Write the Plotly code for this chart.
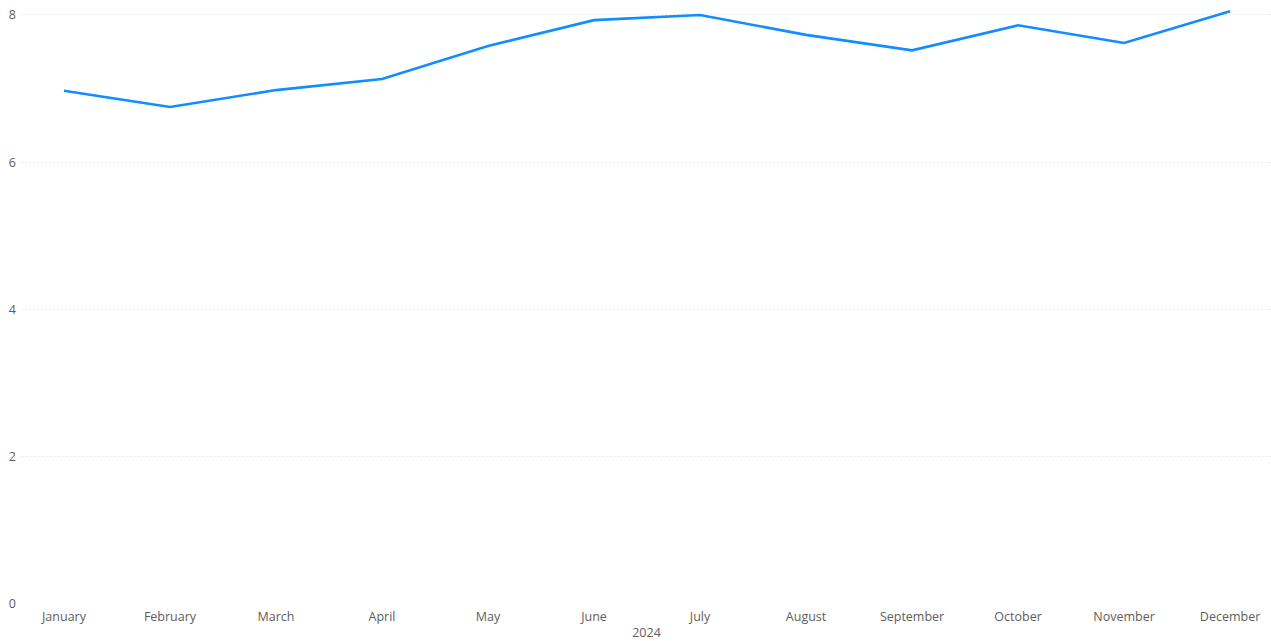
import plotly.graph_objects as go

months = ["January", "February", "March", "April", "May", "June", "July",
          "August", "September", "October", "November", "December"]
values = [6.97, 6.75, 6.98, 7.13, 7.58, 7.93, 8.00, 7.73, 7.52, 7.86, 7.62, 8.05]
y_ticks = [0, 2, 4, 6, 8]

fig = go.Figure()
fig.add_trace(go.Scatter(
    x=months, y=values, mode="lines",
    line=dict(color="#118DFF", width=2.6),
    showlegend=False,
))

font_family = "Open Sans, DejaVu Sans, sans-serif"
fig.update_layout(
    width=1271, height=641,
    margin=dict(l=22, r=0, t=8, b=37),
    paper_bgcolor="white", plot_bgcolor="white",
    font=dict(family=font_family, size=12.5, color="#605E5C"),
    xaxis=dict(
        type="category", categoryorder="array", categoryarray=months,
        range=[-0.396, 11.386], showgrid=False, showline=False, zeroline=False,
        ticks="", tickfont=dict(size=12.5, color="#605E5C"), automargin=False,
        ticklabelstandoff=3,
        title=dict(text="2024", font=dict(size=12.5, color="#605E5C"), standoff=8),
    ),
    yaxis=dict(
        range=[0, 8.095], tickvals=y_ticks, showgrid=True,
        gridcolor="#DADADA", griddash="1px,3px", gridwidth=1,
        zeroline=False, showline=False, ticks="", automargin=False,
        tickfont=dict(size=12.5, color="#605E5C"), ticklabelstandoff=5,
    ),
)

fig.write_html(
    "out.html",
    config={"displayModeBar": False},
    post_script="document.body.style.margin='0';document.body.style.overflow='hidden';",
)
